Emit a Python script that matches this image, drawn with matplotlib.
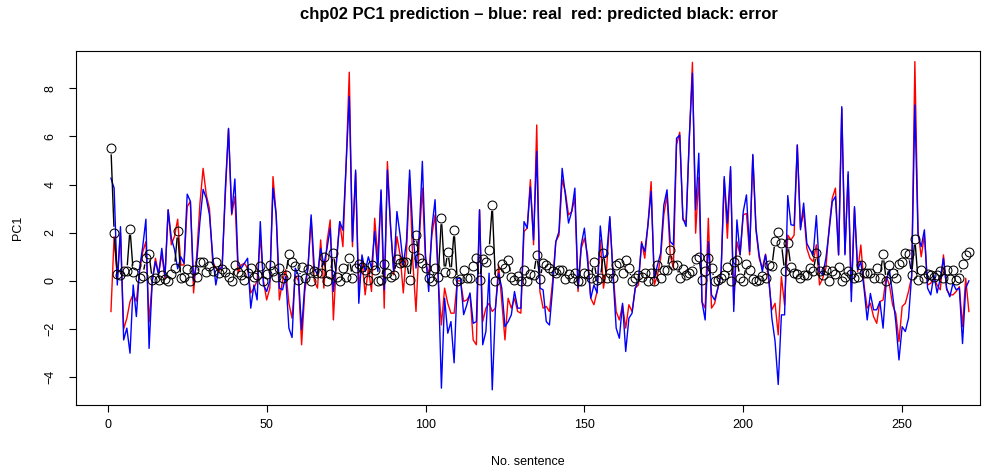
import numpy as np
import matplotlib
matplotlib.use("Agg")
import matplotlib.pyplot as plt
from matplotlib.collections import LineCollection

plt.rcParams['font.family'] = ['Liberation Sans', 'DejaVu Sans']

real = [
    4.26, 3.85, -0.17, 2.25, -2.45, -1.96, -3.0, -0.17, -1.48, 0.53,
    1.42, 2.56, -2.8, 0.0, 0.8, 0.25, 1.35, 0.18, 2.95, 1.77,
    1.3, 0.5, 1.0, 0.73, 3.6, 3.3, 0.0, 0.8, 2.46, 3.8,
    3.43, 2.74, 1.08, -0.17, 0.53, 0.53, 3.85, 6.33, 2.8, 4.23,
    0.66, 0.53, 0.73, 0.94, -1.13, -0.17, -0.79, 2.46, -0.17, -0.44,
    0.0, 3.85, 2.74, -0.3, -0.37, 0.18, -1.96, -2.35, 0.53, 0.25,
    -2.03, -0.17, 0.53, 2.74, 0.53, 0.25, 1.35, 0.66, 1.35, 2.19,
    -0.44, 0.8, 2.46, 2.1, 4.8, 7.65, 1.63, 4.6, -0.93, 1.08,
    0.39, 1.0, 0.53, 2.05, 0.39, 3.78, -0.37, 4.6, 2.2, 0.39,
    2.88, 1.9, 0.66, 1.63, 4.6, 2.05, 0.53, 1.9, 4.96, 1.08,
    -0.44, 2.19, 3.37, 0.25, -4.45, -0.72, -2.17, -1.69, -3.4, 0.1,
    0.1, -1.4, -0.99, -0.5, -1.76, -1.69, 2.95, -2.65, -2.1, 0.32,
    -4.52, -1.13, 0.32, -0.3, -1.9, -1.69, -1.41, -0.44, -1.13, -1.13,
    2.46, 2.19, 3.9, 1.7, 5.37, -0.3, -0.37, -1.69, -1.83, -0.3,
    1.63, 2.05, 4.67, 3.57, 2.4, 2.88, 3.85, -0.3, 1.49, 2.19,
    0.8, -0.72, -0.17, -0.5, 2.28, 0.94, 1.08, 2.67, 0.25, -1.96,
    -2.38, -0.93, -2.93, -1.55, -1.34, -0.3, 0.0, 1.56, 1.22, 2.33,
    3.71, 0.11, 0.66, 1.15, 3.15, 3.78, 1.63, 1.49, 5.92, 6.05,
    2.6, 2.26, 5.92, 8.62, 2.95, 5.3, -0.86, -1.62, 1.63, -0.58,
    -0.79, -0.3, 0.25, 4.33, 2.4, 4.74, -1.27, 2.53, 1.08, 2.88,
    3.57, 1.22, 5.25, 2.19, 1.08, 0.39, 1.08, 0.25, -1.55, -2.5,
    -4.3, -1.41, -1.41, 3.54, 2.33, 2.3, 5.64, 2.12, 3.23, 1.56,
    1.29, 1.08, 2.71, 0.39, 0.25, 0.94, 2.05, 3.29, 3.5, 1.08,
    7.23, 1.08, 4.53, -0.86, 3.08, 0.46, 0.8, -0.3, -1.62, -0.52,
    -1.2, -1.2, -0.86, -1.96, 0.0, 0.46, -0.58, -1.7, -3.28, -1.9,
    -2.1, -1.55, 0.25, 7.3, 1.91, 1.42, 2.12, -0.3, -0.58, 0.25,
    -0.5, 0.11, 0.94, -0.3, -0.66, -0.1, -0.37, -0.3, -2.6, -0.3,
    0.0,
]

predicted = [
    -1.27, 1.84, 0.1, 2.0, -2.0, -1.55, -0.86, -0.55, -0.84, 0.39,
    1.2, 1.63, -1.7, 0.0, 0.94, 0.3, 1.1, 0.1, 2.95, 1.5,
    1.85, 2.56, 0.66, 0.66, 3.08, 3.3, -0.5, 1.08, 3.2, 4.67,
    3.57, 3.0, 0.8, 0.53, 0.39, 0.66, 3.57, 6.3, 2.74, 3.5,
    0.32, 0.66, 0.73, 0.53, -0.5, -0.3, 0.0, 1.84, 0.0, -0.79,
    -0.3, 4.33, 2.74, -0.79, 0.0, 0.46, -0.93, -1.55, 0.25, 0.0,
    -2.65, -0.44, 0.53, 2.6, 0.0, -0.3, 1.7, -0.3, 1.63, 2.53,
    -1.62, 0.94, 2.46, 1.42, 4.8, 8.66, 1.42, 4.5, -0.3, 0.94,
    -0.58, 0.53, -0.44, 2.6, 0.94, 3.7, -1.13, 4.95, 2.3, 0.25,
    1.84, 1.08, -0.5, 1.15, 4.26, 0.8, -1.27, 1.63, 3.85, 0.8,
    0.25, 1.9, 2.74, 0.0, -1.83, -0.3, -0.93, -1.34, -1.34, 0.0,
    0.0, -0.85, -0.79, -0.58, -2.45, -2.65, 2.95, -1.69, -1.13, -0.93,
    -1.27, -1.13, 0.66, -0.86, -2.45, -0.72, -1.13, -0.72, -1.27, -1.34,
    2.05, 2.19, 4.2, 1.5, 6.47, -0.44, -1.13, -1.06, -1.27, 0.0,
    1.63, 1.9, 4.2, 3.7, 2.74, 2.88, 3.43, -0.44, 1.35, 1.77,
    1.08, -0.72, -0.99, -0.44, 1.7, -0.3, 0.53, 2.6, 0.39, -1.27,
    -1.62, -1.0, -1.96, -0.99, -1.27, -0.3, -0.17, 1.63, 0.94, 2.33,
    4.12, -0.17, 0.25, 0.94, 2.74, 3.57, 1.08, 0.53, 5.64, 6.17,
    2.53, 2.46, 5.85, 9.07, 1.98, 4.3, -0.86, -1.13, 2.6, -1.13,
    -0.93, -0.3, 0.32, 4.2, 1.77, 4.6, -0.99, 1.63, 1.08, 2.74,
    2.8, 1.08, 5.2, 2.1, 0.94, 0.53, 1.11, 0.0, -1.2, -0.93,
    -2.24, 0.18, -1.0, 1.9, 1.7, 1.9, 5.64, 2.19, 2.88, 1.35,
    0.94, 0.8, 1.5, -0.17, 0.11, 0.53, 2.19, 3.43, 3.85, 1.08,
    7.16, 1.15, 4.4, -0.44, 3.0, 0.39, 1.49, -0.17, -1.13, -0.93,
    -1.48, -1.76, -0.86, -0.79, 0.18, -0.17, -1.0, -1.35, -2.52, -1.06,
    -0.93, -0.44, 0.18, 9.1, 2.05, 1.0, 1.9, -0.17, -0.1, 0.11,
    -0.17, -0.37, 1.08, -0.37, -0.58, -0.58, -0.44, -0.24, -1.9, 0.11,
    -1.27,
]

error = [
    5.5, 2.0, 0.28, 0.25, 0.41, 0.4, 2.16, 0.38, 0.64, 0.14,
    0.22, 0.93, 1.1, 0.05, 0.14, 0.05, 0.25, 0.08, 0.0, 0.27,
    0.55, 2.05, 0.1, 0.15, 0.5, 0.0, 0.46, 0.18, 0.77, 0.8,
    0.36, 0.6, 0.41, 0.77, 0.32, 0.5, 0.38, 0.18, 0.0, 0.66,
    0.36, 0.25, 0.04, 0.32, 0.53, 0.15, 0.25, 0.6, 0.0, 0.3,
    0.66, 0.39, 0.18, 0.53, 0.1, 0.25, 1.12, 0.77, 0.6, 0.04,
    0.57, 0.14, 0.5, 0.0, 0.39, 0.32, 0.32, 1.0, 0.0, 0.29,
    1.15, 0.18, 0.0, 0.53, 0.18, 0.94, 0.14, 0.53, 0.7, 0.57,
    0.46, 0.04, 0.66, 0.46, 0.0, 0.04, 0.7, 0.32, 0.18, 0.25,
    0.91, 0.73, 0.8, 0.8, 0.04, 1.38, 1.9, 0.94, 0.73, 0.53,
    0.14, 0.0, 0.55, 0.18, 2.6, 0.35, 1.2, 0.32, 2.1, 0.0,
    0.08, 0.46, 0.11, 0.14, 0.6, 0.94, 0.04, 0.91, 0.8, 1.27,
    3.15, 0.0, 0.32, 0.7, 0.53, 0.88, 0.15, 0.05, 0.2, 0.0,
    0.46, 0.0, 0.28, 0.25, 1.08, 0.08, 0.73, 0.66, 0.53, 0.39,
    0.32, 0.46, 0.46, 0.08, 0.28, 0.14, 0.32, 0.0, 0.0, 0.32,
    0.28, 0.11, 0.8, 0.04, 0.1, 1.16, 0.1, 0.32, 0.11, 0.66,
    0.73, 0.32, 0.88, 0.53, 0.0, 0.11, 0.25, 0.18, 0.32, 0.0,
    0.32, 0.0, 0.66, 0.14, 0.46, 0.46, 1.28, 0.64, 0.66, 0.11,
    0.5, 0.25, 0.32, 0.39, 0.91, 1.0, 0.04, 0.41, 0.94, 0.53,
    0.0, 0.04, 0.14, 0.25, 0.57, 0.0, 0.8, 0.87, 0.14, 0.0,
    0.69, 0.46, 0.08, 0.0, 0.04, 0.22, 0.14, 0.64, 0.6, 1.66,
    2.03, 1.56, 0.39, 1.56, 0.57, 0.32, 0.28, 0.11, 0.25, 0.25,
    0.53, 0.39, 1.15, 0.41, 0.25, 0.46, 0.0, 0.41, 0.28, 0.57,
    0.0, 0.18, 0.39, 0.28, 0.11, 0.18, 0.64, 0.32, 0.32, 0.32,
    0.14, 0.53, 0.14, 1.1, 0.0, 0.64, 0.32, 0.14, 0.69, 0.8,
    1.15, 1.1, 0.25, 1.75, 0.04, 0.46, 0.11, 0.28, 0.25, 0.18,
    0.25, 0.39, 0.14, 0.46, 0.08, 0.46, 0.04, 0.11, 0.69, 1.08,
    1.2,
]

x_ticks = [0, 50, 100, 150, 200, 250]
y_ticks = [-4, -2, 0, 2, 4, 6, 8]
title = "chp02 PC1 prediction \u2013 blue: real  red: predicted black: error"
x_label = "No. sentence"
y_label = "PC1"

W, H = 994, 472
fig = plt.figure(figsize=(W / 100, H / 100), dpi=100)
L, R, T, B = 76, 980, 51, 405
ax = fig.add_axes([L / W, 1 - B / H, (R - L) / W, (B - T) / H])

n = len(real)
x = np.arange(1, n + 1)

ax.plot(x, predicted, color='red', lw=1.0, zorder=2)
ax.plot(x, real, color='blue', lw=1.0, zorder=3)

ax.set_xlim(-10.0, 274.5)
ax.set_ylim(-5.15, 9.54)

# type="b" style: circles with line segments that stop short of each circle
fig.canvas.draw()
trans = ax.transData
pts = trans.transform(np.column_stack([x, error]))
gap = 6.0
segs = []
for p1, p2 in zip(pts[:-1], pts[1:]):
    d = p2 - p1
    Ld = np.hypot(*d)
    if Ld > 2 * gap:
        u = d / Ld
        a = trans.inverted().transform(p1 + u * gap)
        b = trans.inverted().transform(p2 - u * gap)
        segs.append([a, b])
ax.add_collection(LineCollection(segs, colors='black', linewidths=1.0, zorder=4))
ax.plot(x, error, linestyle='none', marker='o', markersize=6.4,
        markerfacecolor='none', markeredgecolor='black', markeredgewidth=0.75, zorder=5)

ax.set_xticks(x_ticks)
ax.set_yticks(y_ticks)
ax.tick_params(axis='both', direction='out', length=5, width=0.8, labelsize=9)
ax.tick_params(axis='x', pad=5)
ax.tick_params(axis='y', pad=9)
for lab in ax.get_yticklabels():
    lab.set_rotation(90)
    lab.set_va('center')
for sp in ax.spines.values():
    sp.set_linewidth(0.8)

ax.set_xlabel(x_label, fontsize=9, va='center')
ax.xaxis.set_label_coords(0.5, -(462 - B) / (B - T))
ax.set_ylabel(y_label, fontsize=9, va='center')
ax.yaxis.set_label_coords(-(L - 18) / (R - L), 0.5)

fig.text(539 / W, 1 - 14 / H, title, ha='center', va='center',
         fontsize=12, fontweight='bold')

fig.savefig('out.png', dpi=100)
